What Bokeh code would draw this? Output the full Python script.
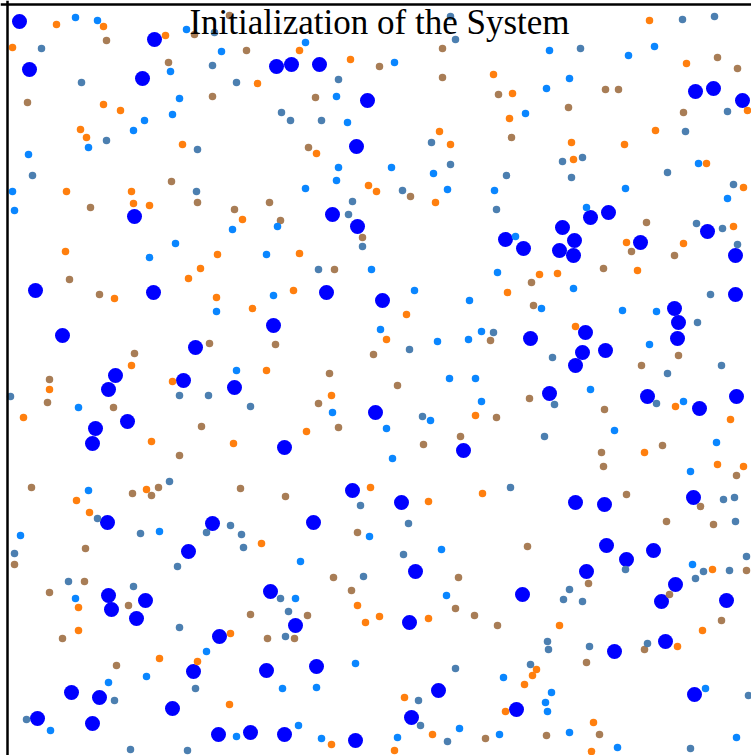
from bokeh.plotting import figure
from bokeh.models import Range1d, Label, Span
from bokeh.embed import file_html
from bokeh.resources import INLINE

# View window: x to the right, y measured downward
VIEW_X = (0, 751)
VIEW_Y = (755, 0)
# Position of the box walls (left and top)
WALL_LEFT = 7
WALL_TOP = 4

TITLE = "Initialization of the System"

# Large particles
big_x = [19, 154, 29, 142, 276, 291, 319, 695, 713, 742, 367, 356, 134, 332, 357,
         505, 523, 562, 590, 608, 574, 559, 573, 640, 707, 735, 35, 153, 326, 382,
         735, 273, 62, 674, 678, 677, 585, 582, 575, 605, 530, 195, 115, 183, 108,
         234, 127, 95, 92, 375, 284, 549, 647, 699, 736, 463, 352, 401, 575, 604,
         693, 107, 212, 313, 188, 606, 626, 653, 415, 586, 675, 108, 111, 145, 136,
         270, 295, 522, 409, 661, 726, 219, 665, 614, 193, 266, 316, 438, 71, 99,
         172, 37, 92, 411, 516, 694, 218, 250, 284, 355]
big_y = [21, 39, 69, 78, 66, 64, 64, 91, 88, 100, 100, 146, 216, 214, 226,
         239, 248, 227, 217, 212, 240, 250, 255, 242, 231, 255, 290, 292, 292, 300,
         294, 325, 335, 308, 322, 338, 332, 352, 365, 350, 338, 347, 375, 380, 389,
         387, 421, 428, 443, 412, 447, 393, 396, 408, 396, 450, 490, 502, 502, 504,
         497, 522, 523, 522, 551, 545, 559, 550, 571, 571, 584, 595, 609, 600, 618,
         591, 625, 594, 622, 601, 600, 636, 641, 651, 671, 670, 666, 690, 692, 697,
         708, 718, 723, 717, 709, 694, 734, 732, 734, 740]

# Small particles, species A (orange)
orange_x = [56, 103, 165, 12, 103, 120, 80, 86, 182, 66, 131, 133, 149, 242, 65,
            217, 200, 188, 114, 216, 131, 172, 252, 49, 23, 151, 233, 76, 146, 89,
            78, 78, 230, 159, 197, 229, 299, 350, 493, 257, 439, 450, 316, 368, 376,
            649, 686, 512, 747, 509, 655, 571, 624, 573, 706, 743, 435, 299, 293, 406,
            386, 266, 733, 626, 683, 539, 557, 637, 507, 575, 331, 475, 306, 370, 428,
            482, 261, 675, 730, 644, 717, 743, 712, 559, 702, 677, 536, 532, 524, 505,
            593, 591, 357, 365, 379, 428, 404, 432, 331, 394]
orange_y = [24, 26, 35, 47, 104, 110, 129, 137, 144, 191, 191, 203, 205, 219, 251,
            254, 268, 278, 298, 297, 365, 381, 308, 389, 417, 441, 443, 500, 489, 512,
            607, 630, 633, 658, 661, 704, 50, 59, 74, 83, 131, 144, 153, 185, 191,
            20, 63, 93, 110, 118, 130, 142, 144, 159, 163, 187, 202, 253, 290, 314,
            339, 370, 226, 242, 243, 274, 273, 270, 292, 326, 395, 415, 431, 487, 501,
            493, 543, 406, 419, 452, 464, 466, 569, 625, 630, 646, 669, 675, 684, 711,
            722, 751, 605, 622, 616, 618, 697, 734, 744, 750]

# Small particles, species B (brown)
brown_x = [106, 194, 229, 168, 246, 27, 212, 171, 90, 197, 234, 69, 99, 209, 134,
           49, 47, 113, 201, 179, 31, 132, 158, 151, 240, 85, 14, 84, 49, 128,
           62, 250, 116, 442, 379, 442, 498, 315, 308, 717, 737, 605, 618, 683, 568,
           511, 410, 269, 280, 362, 334, 275, 373, 490, 329, 646, 631, 674, 531, 603,
           533, 678, 641, 397, 318, 338, 460, 423, 285, 357, 496, 529, 604, 601, 603,
           662, 736, 626, 700, 666, 713, 527, 746, 588, 669, 721, 644, 586, 546, 599,
           333, 458, 351, 307, 455, 474, 497, 267, 294, 485]
brown_y = [40, 34, 15, 62, 50, 102, 96, 181, 207, 202, 209, 279, 294, 343, 353,
           379, 402, 407, 426, 455, 487, 493, 487, 495, 488, 548, 564, 581, 592, 605,
           638, 614, 665, 48, 66, 77, 94, 97, 147, 57, 68, 89, 89, 112, 107,
           137, 196, 202, 220, 237, 269, 344, 354, 340, 373, 222, 251, 255, 282, 268,
           305, 355, 365, 385, 403, 427, 436, 444, 496, 532, 417, 398, 409, 452, 466,
           445, 475, 494, 506, 521, 524, 546, 570, 583, 594, 620, 649, 662, 735, 734,
           577, 577, 590, 615, 608, 615, 625, 638, 638, 738]

# Small particles, species C (light blue)
light_x = [75, 97, 186, 221, 170, 179, 144, 172, 88, 133, 28, 12, 14, 232, 175,
           149, 216, 236, 78, 88, 20, 159, 75, 206, 146, 108, 50, 236, 305, 394,
           336, 347, 338, 391, 433, 336, 305, 447, 494, 549, 628, 654, 569, 546, 525,
           698, 625, 277, 266, 371, 497, 273, 414, 469, 380, 437, 468, 481, 449, 475,
           727, 586, 515, 573, 541, 622, 656, 649, 332, 481, 430, 386, 392, 369, 441,
           300, 590, 683, 614, 716, 690, 692, 503, 551, 545, 547, 705, 569, 617, 736,
           295, 446, 355, 282, 316, 459, 298, 321, 397, 499]
light_y = [17, 20, 29, 51, 71, 98, 120, 114, 147, 130, 154, 191, 210, 229, 243,
           257, 311, 370, 407, 490, 535, 531, 598, 651, 676, 682, 730, 736, 42, 62,
           96, 122, 167, 167, 173, 180, 188, 189, 190, 50, 55, 46, 78, 88, 113,
           163, 188, 226, 254, 269, 272, 295, 290, 300, 329, 341, 339, 331, 378, 378,
           198, 207, 236, 288, 308, 310, 311, 344, 412, 401, 420, 428, 458, 536, 549,
           561, 389, 401, 430, 442, 471, 564, 677, 692, 702, 711, 688, 732, 747, 737,
           598, 595, 663, 688, 687, 728, 725, 738, 737, 734]

# Small particles, species D (steel blue)
steel_x = [41, 214, 212, 81, 236, 106, 197, 32, 196, 10, 179, 208, 250, 169, 97,
           230, 206, 241, 140, 243, 14, 177, 68, 133, 179, 195, 114, 26, 130, 187,
           450, 455, 338, 281, 290, 321, 431, 450, 402, 682, 714, 580, 727, 685, 562,
           582, 667, 506, 571, 733, 352, 348, 362, 318, 409, 493, 496, 696, 722, 737,
           710, 697, 552, 667, 721, 422, 360, 408, 403, 554, 656, 544, 510, 723, 734,
           735, 746, 625, 703, 729, 569, 563, 582, 695, 547, 548, 589, 647, 530, 748,
           690, 363, 280, 288, 285, 455, 418, 420, 447]
steel_y = [48, 32, 65, 82, 82, 140, 149, 175, 191, 396, 395, 395, 406, 481, 518,
           525, 532, 534, 533, 547, 553, 566, 581, 586, 627, 688, 700, 719, 749, 750,
           16, 39, 79, 112, 120, 120, 142, 164, 190, 19, 16, 48, 111, 131, 161,
           157, 172, 175, 177, 184, 201, 214, 246, 269, 349, 332, 209, 223, 228, 244,
           294, 322, 357, 373, 365, 416, 505, 523, 554, 404, 403, 436, 487, 499, 497,
           521, 556, 569, 571, 570, 589, 599, 601, 578, 641, 649, 646, 643, 664, 695,
           748, 576, 598, 611, 636, 668, 700, 725, 741]

BIG_COLOR = "#0000ff"
ORANGE_COLOR = "#ff7f0e"
BROWN_COLOR = "#a87d56"
LIGHT_COLOR = "#0a86ff"
STEEL_COLOR = "#4c7fb0"

p = figure(width=751, height=755, output_backend="svg", toolbar_location=None,
           x_range=Range1d(*VIEW_X), y_range=Range1d(*VIEW_Y),
           x_axis_location=None, y_axis_location=None,
           min_border=0)

p.grid.visible = False
p.outline_line_color = None
p.background_fill_color = "white"
p.border_fill_color = "white"

p.scatter(big_x, big_y, size=15, fill_color=BIG_COLOR, line_color=None)
p.scatter(orange_x, orange_y, size=7.5, fill_color=ORANGE_COLOR, line_color=None)
p.scatter(brown_x, brown_y, size=7.5, fill_color=BROWN_COLOR, line_color=None)
p.scatter(light_x, light_y, size=7.5, fill_color=LIGHT_COLOR, line_color=None)
p.scatter(steel_x, steel_y, size=7.5, fill_color=STEEL_COLOR, line_color=None)

# Top and left walls of the box
p.add_layout(Span(location=WALL_TOP, dimension="width", line_color="black", line_width=2.5))
p.add_layout(Span(location=WALL_LEFT, dimension="height", line_color="black", line_width=2.5))

title = Label(x=(WALL_LEFT + VIEW_X[1]) / 2, y=22, text=TITLE,
              text_font="Liberation Serif", text_font_size="35px",
              text_align="center", text_baseline="alphabetic", text_color="black")
p.add_layout(title)

open("out.html", "w").write(file_html(p, INLINE))
